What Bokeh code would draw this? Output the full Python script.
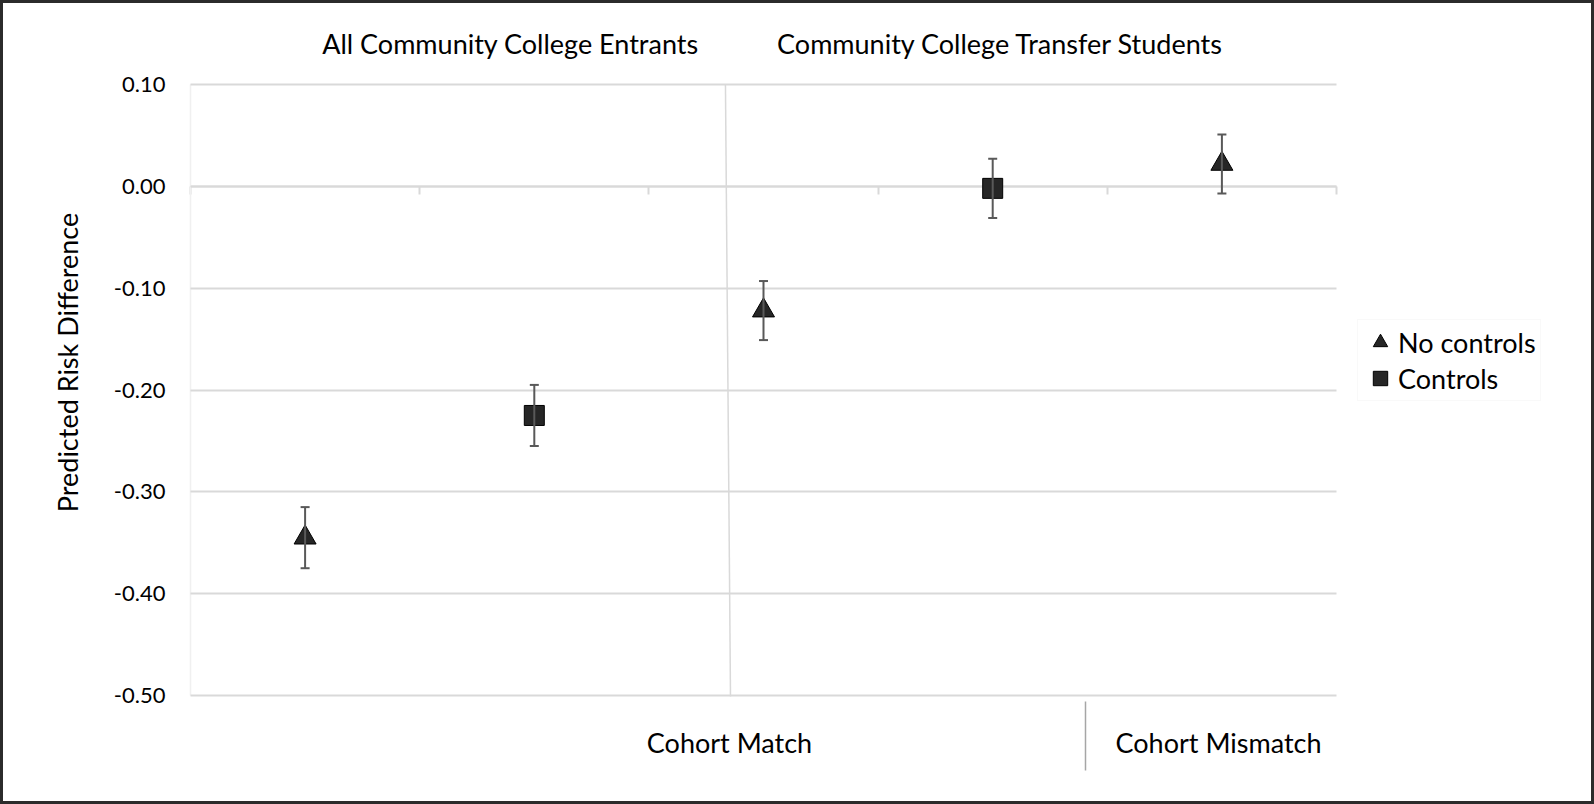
import math
from bokeh.plotting import figure
from bokeh.models import (Range1d, FixedTicker, NumeralTickFormatter, LinearAxis, Whisker, TeeHead,
                          ColumnDataSource, Legend, LegendItem, Label, Arrow)
from bokeh.embed import file_html
from bokeh.resources import INLINE

# ---------------- data ----------------
group_titles = ["All Community College Entrants", "Community College Transfer Students"]
cohort_labels = ["Cohort Match", "Cohort Mismatch"]
series_names = ["No controls", "Controls"]
y_label = "Predicted Risk Difference"

nocontrol_pos = [1, 3, 5]
nocontrol_est = [-0.345, -0.122, 0.022]
nocontrol_err = [0.030, 0.029, 0.029]

control_pos = [2, 4]
control_est = [-0.225, -0.002]
control_err = [0.030, 0.029]

y_ticks = [-0.5, -0.4, -0.3, -0.2, -0.1, 0.0, 0.1]
cat_edges = [0.5, 1.5, 2.5, 3.5, 4.5, 5.5]

# ---------------- layout (pixels) ----------------
W, H = 1594, 804
PX_LEFT, PX_RIGHT = 190, 1336      # pixel x of category edges 0.5 and 5.5
PX_TOP, PX_BOTTOM = 84, 695        # pixel y of 0.10 and -0.50
Y_MIN, Y_MAX = y_ticks[0], y_ticks[-1]
X_MIN, X_MAX = cat_edges[0], cat_edges[-1]

kx = (PX_RIGHT - PX_LEFT) / (X_MAX - X_MIN)
ky = (PX_BOTTOM - PX_TOP) / (Y_MAX - Y_MIN)
x_start = X_MIN - PX_LEFT / kx
x_end = x_start + W / kx
y_end = Y_MAX + PX_TOP / ky
y_start = y_end - H / ky

FONT = "Lato"
GRID = "#d9d9d9"
MARK_FILL = "#262626"
ERR = "#595959"
TXT = "#000000"

p = figure(width=W, height=H,
           x_range=Range1d(x_start, x_end), y_range=Range1d(y_start, y_end),
           output_backend="svg", toolbar_location=None,
           x_axis_location=None, y_axis_location=None,
           min_border=0, min_border_left=0, min_border_right=0, min_border_top=0, min_border_bottom=0,
           background_fill_color="white", border_fill_color="white",
           outline_line_color="#2b2b2b", outline_line_width=5)
p.xgrid.visible = False
p.ygrid.visible = False

# value axis: its inward ticks form the horizontal gridlines
ya = LinearAxis(fixed_location=X_MIN, bounds=(Y_MIN, Y_MAX),
                ticker=FixedTicker(ticks=y_ticks),
                formatter=NumeralTickFormatter(format="0.00"),
                major_tick_in=PX_RIGHT - PX_LEFT, major_tick_out=0,
                major_tick_line_color=GRID, major_tick_line_width=2,
                minor_tick_line_color=None,
                axis_line_color="#f0f0f0", axis_line_width=1.5,
                major_label_standoff=25,
                major_label_text_font=FONT, major_label_text_font_size="22px",
                major_label_text_color=TXT, level="underlay")
p.add_layout(ya, "left")

# category axis crossing at 0
cat_axis = LinearAxis(fixed_location=0, bounds=(X_MIN, X_MAX),
                      ticker=FixedTicker(ticks=cat_edges),
                      major_tick_out=8, major_tick_in=0,
                      major_tick_line_color=GRID, major_tick_line_width=2,
                      minor_tick_line_color=None,
                      axis_line_color=GRID, axis_line_width=2,
                      major_label_overrides={t: "" for t in cat_edges},
                      level="underlay")
p.add_layout(cat_axis, "below")

# group separator line (slightly slanted, as in the original)
p.segment(x0=[2.834], y0=[Y_MAX], x1=[2.856], y1=[Y_MIN - 0.001],
          line_color=GRID, line_width=1.5, level="underlay")

# data sources
src_nc = ColumnDataSource(dict(
    x=nocontrol_pos, y=nocontrol_est,
    upper=[v + e for v, e in zip(nocontrol_est, nocontrol_err)],
    lower=[v - e for v, e in zip(nocontrol_est, nocontrol_err)]))
src_c = ColumnDataSource(dict(
    x=control_pos, y=control_est,
    upper=[v + e for v, e in zip(control_est, control_err)],
    lower=[v - e for v, e in zip(control_est, control_err)]))

for src in (src_nc, src_c):
    w = Whisker(base="x", upper="upper", lower="lower", source=src,
                line_color=ERR, line_width=2, level="glyph",
                upper_head=TeeHead(size=9, line_color=ERR, line_width=2),
                lower_head=TeeHead(size=9, line_color=ERR, line_width=2))
    p.add_layout(w)

r1 = p.scatter("x", "y", source=src_nc, marker="triangle", size=22,
               fill_color=MARK_FILL, line_color="#000000", line_width=1)
r2 = p.scatter("x", "y", source=src_c, marker="square", size=20,
               fill_color=MARK_FILL, line_color="#000000", line_width=1)

legend = Legend(items=[LegendItem(label=series_names[0], renderers=[r1]),
                       LegendItem(label=series_names[1], renderers=[r2])],
                location=(1357, H - 401), glyph_width=36, glyph_height=36,
                label_standoff=0, spacing=0, padding=4,
                label_text_font=FONT, label_text_font_size="27px", label_text_color=TXT,
                border_line_color="#f3f3f3", background_fill_color="white")
p.add_layout(legend)

# texts (screen units: x from left, y from bottom of the canvas)
def add_label(text, x, y, angle=0.0):
    p.add_layout(Label(text=text, x=x, y=H - y, x_units="screen", y_units="screen",
                       angle=angle, text_align="center", text_baseline="middle",
                       text_font=FONT, text_font_size="27px", text_color=TXT))

add_label(group_titles[0], 510, 43)
add_label(group_titles[1], 1000, 43)
add_label(cohort_labels[0], 729, 742)
add_label(cohort_labels[1], 1218, 742)
add_label(y_label, 67, 362, angle=math.pi / 2)

# short separator between cohort labels
p.add_layout(Arrow(end=None, x_start=1085, y_start=H - 701, x_end=1085, y_end=H - 770,
                   start_units="screen", end_units="screen",
                   line_color="#a6a6a6", line_width=1.5))

open("out.html", "w").write(file_html(p, INLINE))
